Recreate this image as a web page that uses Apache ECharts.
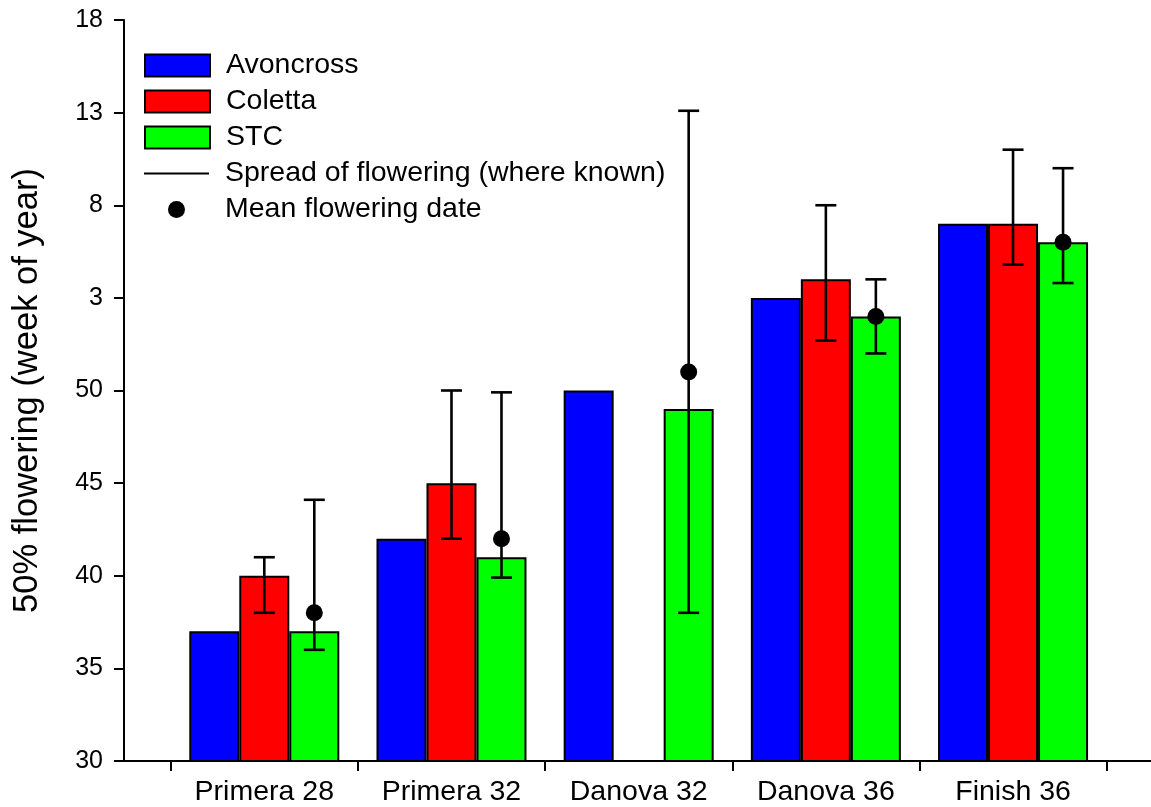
<!DOCTYPE html>
<html>
<head>
<meta charset="utf-8">
<title>50% flowering by sowing</title>
<script src="https://cdn.jsdelivr.net/npm/echarts@6/dist/echarts.min.js"></script>
<style>
  html, body { margin: 0; padding: 0; background: #fff; }
  #chart { width: 1151px; height: 807px; }
</style>
</head>
<body>
<div id="chart"></div>
<script>
// Sowings (x groups)
const categories = ['Primera 28', 'Primera 32', 'Danova 32', 'Danova 36', 'Finish 36'];

// 50% flowering, as a running week number (weeks past 52 belong to the next year)
const avoncross = [37, 42, 50, 55, 59];
const coletta   = [40, 45, null, 56, 59];
const stc       = [37, 41, 49, 54, 58];

// Spread of flowering [first, last] week, where known
const colettaSpread = [[38, 41], [42, 50], null, [52.7, 60], [56.8, 63]];
const stcSpread     = [[36, 44.1], [39.9, 49.9], [38, 65.1], [52, 56], [55.8, 62]];

// Mean flowering week (STC)
const stcMean = [38, 42, 51, 54, 58];

// y-axis: week 30 .. week 18 of the following year
const yMin = 30, yMax = 70, yStep = 5;
const weeksPerYear = 52;

const FONT = '"Liberation Sans", Arial, Helvetica, sans-serif';
const BAR_W = 50;     // px per bar
const CAP_W = 21;     // px error-bar cap
const SLOT = { Avoncross: -1, Coletta: 0, STC: 1 };

const pairs = arr => arr.map((v, i) => [i + 1, v == null ? '-' : v]);
const spreadRows = (arr, slot) => arr
  .map((r, i) => r ? [i + 1, r[0], r[1], slot] : null)
  .filter(Boolean);

function renderErrorBar(params, api) {
  const x = api.value(0), lo = api.value(1), hi = api.value(2), slot = api.value(3);
  const pLo = api.coord([x, lo]);
  const pHi = api.coord([x, hi]);
  const cx = pLo[0] + slot * BAR_W;
  const h = CAP_W / 2;
  const st = { stroke: '#000', lineWidth: 2.6 };
  return {
    type: 'group',
    children: [
      { type: 'line', shape: { x1: cx, y1: pHi[1], x2: cx, y2: pLo[1] }, style: st },
      { type: 'line', shape: { x1: cx - h, y1: pHi[1], x2: cx + h, y2: pHi[1] }, style: st },
      { type: 'line', shape: { x1: cx - h, y1: pLo[1], x2: cx + h, y2: pLo[1] }, style: st }
    ]
  };
}

const barStyle = color => ({ color: color, borderColor: '#000', borderWidth: 2 });
const legendText = pad => ({ fontFamily: FONT, fontSize: 28.5, color: '#000', padding: [0, 0, 0, pad] });

const option = {
  animation: false,
  backgroundColor: '#fff',
  grid: { left: 124, right: 0, top: 20, bottom: 44, containLabel: false },
  legend: [
    {
      data: ['Avoncross', 'Coletta', 'STC'],
      orient: 'vertical', left: 139, top: 46,
      icon: 'rect', itemWidth: 65, itemHeight: 22, itemGap: 7,
      textStyle: legendText(11), selectedMode: false
    },
    {
      data: ['Spread of flowering (where known)'],
      orient: 'vertical', left: 139, top: 154,
      icon: 'rect', itemWidth: 65, itemHeight: 2,
      textStyle: legendText(11), selectedMode: false
    },
    {
      data: ['Mean flowering date'],
      orient: 'vertical', left: 163, top: 190,
      icon: 'circle', itemWidth: 17, itemHeight: 17,
      textStyle: legendText(35), selectedMode: false
    }
  ],
  xAxis: {
    type: 'value',
    min: 0.2505, max: 5.737,
    splitLine: { show: false },
    axisLine: { show: true, onZero: false, lineStyle: { color: '#000', width: 2 } },
    axisTick: {
      show: true, length: 10, lineStyle: { color: '#000', width: 2 },
      customValues: categories.map((c, i) => i + 0.5).concat([categories.length + 0.5])
    },
    axisLabel: {
      customValues: categories.map((c, i) => i + 1),
      formatter: v => categories[Math.round(v) - 1] || '',
      fontFamily: FONT, fontSize: 28.5, color: '#000', margin: 17
    }
  },
  yAxis: {
    type: 'value',
    min: yMin, max: yMax, interval: yStep,
    name: '50% flowering (week of year)',
    nameLocation: 'middle', nameGap: 79,
    nameTextStyle: { fontFamily: FONT, fontSize: 34.5, color: '#000' },
    splitLine: { show: false },
    axisLine: { show: true, lineStyle: { color: '#000', width: 2 } },
    axisTick: { show: true, length: 10, lineStyle: { color: '#000', width: 2 } },
    axisLabel: {
      formatter: v => String(v > weeksPerYear ? v - weeksPerYear : v),
      fontFamily: FONT, fontSize: 25, color: '#000', margin: 21
    }
  },
  series: [
    { name: 'Avoncross', type: 'bar', data: pairs(avoncross), barWidth: BAR_W, barGap: '0%', itemStyle: barStyle('#0000ff'), z: 2 },
    { name: 'Coletta',   type: 'bar', data: pairs(coletta),   barWidth: BAR_W, barGap: '0%', itemStyle: barStyle('#ff0000'), z: 2 },
    { name: 'STC',       type: 'bar', data: pairs(stc),       barWidth: BAR_W, barGap: '0%', itemStyle: barStyle('#00ff00'), z: 2 },
    {
      name: 'Spread of flowering (where known)',
      type: 'custom',
      renderItem: renderErrorBar,
      encode: { x: 0, y: [1, 2] },
      itemStyle: { color: '#000' },
      data: spreadRows(colettaSpread, SLOT.Coletta).concat(spreadRows(stcSpread, SLOT.STC)),
      z: 3
    },
    {
      name: 'Mean flowering date',
      type: 'scatter',
      data: pairs(stcMean),
      symbol: 'circle', symbolSize: 17,
      symbolOffset: [SLOT.STC * BAR_W, 0],
      itemStyle: { color: '#000', opacity: 1 },
      z: 4
    }
  ]
};

const chart = echarts.init(document.getElementById('chart'), null, { renderer: 'canvas' });
chart.setOption(option);
</script>
</body>
</html>
